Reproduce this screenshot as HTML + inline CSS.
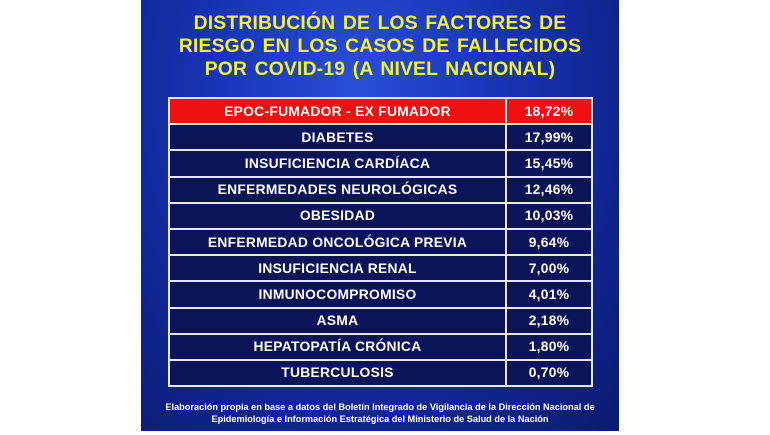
<!DOCTYPE html>
<html><head><meta charset="utf-8"><style>
body{margin:0;width:770px;height:435px;background:#fff;overflow:hidden;position:relative;font-family:"Liberation Sans",Arial,sans-serif;}
.panel{position:absolute;left:141px;top:0;width:478px;height:431px;
background:radial-gradient(ellipse at 45% 20%,#2a4fd8 0%,#1836b8 35%,#0f2590 70%,#0a1b70 100%);}
.title{position:absolute;left:0;top:12px;width:478px;text-align:center;color:#f5f03a;font-weight:bold;font-size:19.3px;line-height:23px;letter-spacing:0.2px;word-spacing:2px;}
table{position:absolute;left:27px;top:97px;width:425px;border-collapse:collapse;}
td{border:2px solid #e8e8f0;height:24.2px;padding:0;color:#fff;font-weight:bold;font-size:13.8px;text-align:center;background:#0b1458;letter-spacing:0.3px;}
td.v{width:84px;}
tr.r td{background:#f01010;}
.foot{position:absolute;left:0;top:402px;width:478px;text-align:center;color:#fff;font-weight:bold;font-size:9.2px;line-height:11.5px;}
</style></head><body>
<div class="panel">
<div class="title">DISTRIBUCIÓN DE LOS FACTORES DE<br>RIESGO EN LOS CASOS DE FALLECIDOS<br>POR COVID-19 (A NIVEL NACIONAL)</div>
<table>
<tr class="r"><td>EPOC-FUMADOR - EX FUMADOR</td><td class="v">18,72%</td></tr>
<tr><td>DIABETES</td><td class="v">17,99%</td></tr>
<tr><td>INSUFICIENCIA CARDÍACA</td><td class="v">15,45%</td></tr>
<tr><td>ENFERMEDADES NEUROLÓGICAS</td><td class="v">12,46%</td></tr>
<tr><td>OBESIDAD</td><td class="v">10,03%</td></tr>
<tr><td>ENFERMEDAD ONCOLÓGICA PREVIA</td><td class="v">9,64%</td></tr>
<tr><td>INSUFICIENCIA RENAL</td><td class="v">7,00%</td></tr>
<tr><td>INMUNOCOMPROMISO</td><td class="v">4,01%</td></tr>
<tr><td>ASMA</td><td class="v">2,18%</td></tr>
<tr><td>HEPATOPATÍA CRÓNICA</td><td class="v">1,80%</td></tr>
<tr><td>TUBERCULOSIS</td><td class="v">0,70%</td></tr>
</table>
<div class="foot">Elaboración propia en base a datos del Boletín Integrado de Vigilancia de la Dirección Nacional de<br>Epidemiología e Información Estratégica del Ministerio de Salud de la Nación</div>
</div>
</body></html>
